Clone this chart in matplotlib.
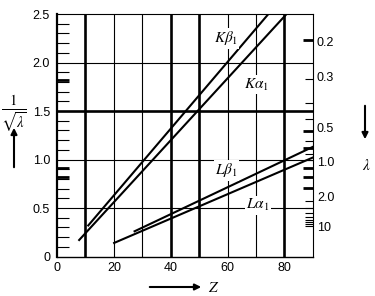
import matplotlib
matplotlib.use('Agg')
import matplotlib.pyplot as plt
import numpy as np

plt.rcParams['font.family'] = ['Liberation Sans', 'DejaVu Sans']
plt.rcParams['mathtext.fontset'] = 'stix'

# lines: atomic number Z vs 1/sqrt(lambda)
kb1_z = [11.0, 74.4]
kb1_y = [0.32, 2.5]
ka1_z = [7.8, 80.8]
ka1_y = [0.17, 2.5]
lb1_z = [27.3, 90.0]
lb1_y = [0.26, 1.13]
la1_z = [20.1, 90.0]
la1_y = [0.14, 1.02]

# grid
grid_x = [10, 20, 30, 40, 50, 60, 70, 80]
grid_x_thick = [10, 40, 50, 80]
grid_y = [0.5, 1.0, 1.5, 2.0]
grid_y_thick = [1.5]

# ticks
x_ticks = [0, 20, 40, 60, 80]
y_ticks = [0, 0.5, 1.0, 1.5, 2.0, 2.5]
y_labels = ['0', '0.5', '1.0', '1.5', '2.0', '2.5']
left_thick = [1.82, 0.91, 0.82]
lam_thin = [0.3, 0.4, 0.5, 0.7, 0.9, 1.0, 3, 4, 5, 6, 7, 8, 9, 10]
lam_thick = [0.2, 0.6, 0.8, 1.2, 1.5, 2.0]
right_labels = ['0.2', '0.3', '0.5', '1.0', '2.0', '10']
right_label_y = [2.216, 1.851, 1.335, 0.977, 0.617, 0.309]

fig = plt.figure(figsize=(3.75, 2.96), dpi=100)
ax = fig.add_axes([0.152, 0.1334, 0.682, 0.8193])
ax.set_xlim(0, 90)
ax.set_ylim(0, 2.5)

# grid lines
for gx in grid_x:
    ax.axvline(gx, color='black', lw=1.9 if gx in grid_x_thick else 0.8, zorder=1)
for gy in grid_y:
    ax.axhline(gy, color='black', lw=1.9 if gy in grid_y_thick else 0.8, zorder=1)

# spectral lines
for zz, yy in [(kb1_z, kb1_y), (ka1_z, ka1_y), (lb1_z, lb1_y), (la1_z, la1_y)]:
    ax.plot(zz, yy, color='black', lw=1.5, zorder=3)

box = dict(facecolor='white', edgecolor='none', pad=1)
ax.text(59.4, 2.25, r'$K\beta_1$', fontsize=11, ha='center', va='center', bbox=box, zorder=4)
ax.text(70.3, 1.77, r'$K\alpha_1$', fontsize=11, ha='center', va='center', bbox=box, zorder=4)
ax.text(59.7, 0.89, r'$L\beta_1$', fontsize=11, ha='center', va='center', bbox=box, zorder=4)
ax.text(70.7, 0.53, r'$L\alpha_1$', fontsize=11, ha='center', va='center', bbox=box, zorder=4)

# spines
ax.spines['left'].set_linewidth(1.6)
ax.spines['bottom'].set_linewidth(1.0)
ax.spines['top'].set_linewidth(0.8)
ax.spines['right'].set_linewidth(0.8)

# left / bottom ticks
ax.set_xticks(x_ticks)
ax.set_yticks(y_ticks, y_labels)
ax.tick_params(axis='x', length=0, pad=4, labelsize=9)
ax.tick_params(axis='y', which='major', length=0, pad=5, labelsize=9)
ax.set_yticks([i / 10 for i in range(1, 25) if i % 5], minor=True)
ax.tick_params(axis='y', which='minor', direction='in', length=8.5, width=0.8)
ax.hlines(left_thick, 0, 0.047, transform=ax.get_yaxis_transform(), color='black', lw=2.0, zorder=5)

# right axis: wavelength
tw = ax.twinx()
tw.set_ylim(0, 2.5)
tw.set_yticks(right_label_y, right_labels)
tw.tick_params(axis='y', which='major', length=0, pad=3, labelsize=9)
tw.set_yticks(1 / np.sqrt(lam_thin), minor=True)
tw.tick_params(axis='y', which='minor', direction='in', length=5.5, width=0.8)
tw.hlines(1 / np.sqrt(lam_thick), 0.96, 1.0, transform=tw.get_yaxis_transform(), color='black', lw=2.0)
for s in tw.spines.values():
    s.set_visible(False)

# axis titles with arrows
fig.text(14, 182, r'$\frac{1}{\sqrt{\lambda}}$', fontsize=15, ha='center', va='center',
         transform=None)
ax.annotate('', xy=(14, 171), xytext=(14, 126), xycoords='figure pixels',
            arrowprops=dict(arrowstyle='-|>', color='black', lw=1.5, mutation_scale=9))
ax.annotate('', xy=(365, 154), xytext=(365, 193), xycoords='figure pixels',
            arrowprops=dict(arrowstyle='-|>', color='black', lw=1.5, mutation_scale=9))
fig.text(366.5, 130, r'$\lambda$', fontsize=11, ha='center', va='center', transform=None)
ax.annotate('', xy=(204, 9), xytext=(147, 9), xycoords='figure pixels',
            arrowprops=dict(arrowstyle='-|>', color='black', lw=1.5, mutation_scale=9))
fig.text(214, 8, r'$Z$', fontsize=11, ha='center', va='center', transform=None)

fig.savefig('out.png', dpi=100)
